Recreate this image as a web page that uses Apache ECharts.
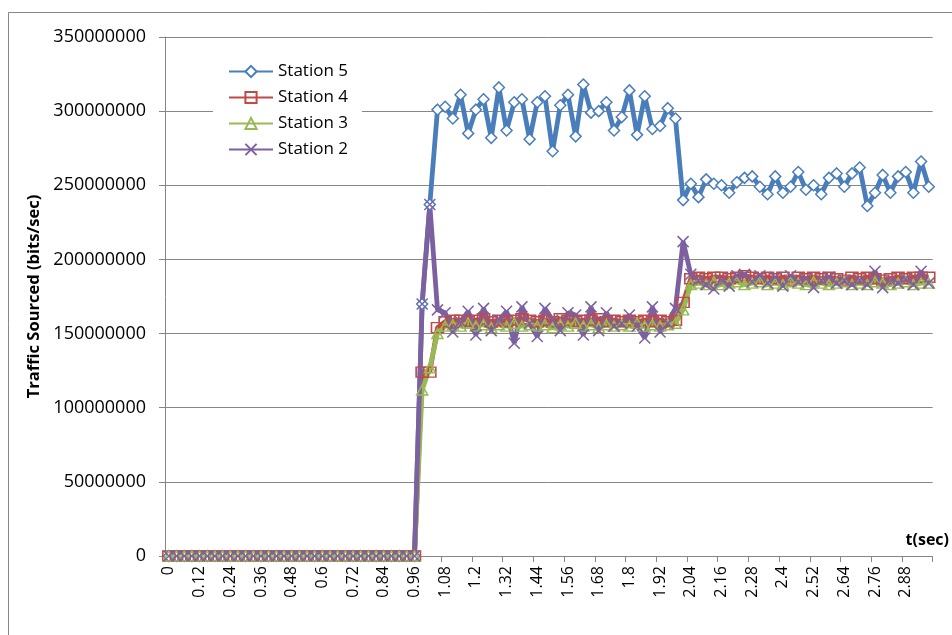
<!DOCTYPE html>
<html>
<head>
<meta charset="utf-8">
<script src="https://cdn.jsdelivr.net/npm/echarts@6/dist/echarts.min.js"></script>
<style>
html,body{margin:0;padding:0;background:#fff;}
#chart{width:952px;height:635px;}
</style>
</head>
<body>
<div id="chart"></div>
<script>
// time categories (sec)
var categories = ["0","0.03","0.06","0.09","0.12","0.15","0.18","0.21","0.24","0.27",
"0.3","0.33","0.36","0.39","0.42","0.45","0.48","0.51","0.54","0.57",
"0.6","0.63","0.66","0.69","0.72","0.75","0.78","0.81","0.84","0.87",
"0.9","0.93","0.96","0.99","1.02","1.05","1.08","1.11","1.14","1.17",
"1.2","1.23","1.26","1.29","1.32","1.35","1.38","1.41","1.44","1.47",
"1.5","1.53","1.56","1.59","1.62","1.65","1.68","1.71","1.74","1.77",
"1.8","1.83","1.86","1.89","1.92","1.95","1.98","2.01","2.04","2.07",
"2.1","2.13","2.16","2.19","2.22","2.25","2.28","2.31","2.34","2.37",
"2.4","2.43","2.46","2.49","2.52","2.55","2.58","2.61","2.64","2.67",
"2.7","2.73","2.76","2.79","2.82","2.85","2.88","2.91","2.94","2.97"];

// values in millions of bits/sec
var station5 = [0,0,0,0,0,0,0,0,0,0, 0,0,0,0,0,0,0,0,0,0, 0,0,0,0,0,0,0,0,0,0, 0,0,0,170,237,
301,303,295,311,285,301,308,282,316,287,306,308,281,306,310,273,304,311,283,318,299,300,306,287,296,314,284,310,288,290,302,295,
240,251,242,254,251,250,245,252,255,256,249,244,256,245,249,259,247,250,244,255,258,249,258,262,236,245,257,245,256,259,245,266,249];

var station4 = [0,0,0,0,0,0,0,0,0,0, 0,0,0,0,0,0,0,0,0,0, 0,0,0,0,0,0,0,0,0,0, 0,0,0,124,124,
154,158,159,159,158,159,160,158,159,158,159,160,159,158,159,158,160,159,158,159,159,160,158,159,158,159,158,159,158,159,158,159,
171,187,188,187,188,188,187,188,189,188,187,188,187,188,186,188,187,188,187,188,187,186,188,187,188,187,186,187,188,187,188,188,188];

var station3 = [0,0,0,0,0,0,0,0,0,0, 0,0,0,0,0,0,0,0,0,0, 0,0,0,0,0,0,0,0,0,0, 0,0,0,112,127,
150,155,156,155,157,155,156,154,156,155,157,155,156,155,156,154,156,155,157,155,156,154,156,155,156,155,157,155,156,155,156,157,
166,183,184,183,185,183,184,185,183,184,185,183,184,183,185,184,183,185,184,183,184,185,183,184,183,185,184,183,184,185,183,184,184];

var station2 = [0,0,0,0,0,0,0,0,0,0, 0,0,0,0,0,0,0,0,0,0, 0,0,0,0,0,0,0,0,0,0, 0,0,0,170,237,
166,164,151,158,165,149,167,152,159,165,143.5,168,157,148,167,159,152,164,162.5,149,168,152,164,155,157,162.5,155,147,168,151,157,167,
212,190,186,183,180,186,182,189,190,185,189,184,188,182,189,185,187,181,186,188,184,186,183,186,183,192,181,186,184,187,183,192,184];

var seriesNames = ["Station 5","Station 4","Station 3","Station 2"];
var seriesColors = ["#4A7EBB","#BE4B48","#98B954","#7D60A0"];

var yTicks = {min:0, max:350000000, interval:50000000};

function toBits(arr){ return arr.map(function(v){ return v*1e6; }); }

var crossPath = 'path://M0,0L10,10M10,0L0,10';

var chart = echarts.init(document.getElementById('chart'), null, {renderer:'canvas'});
var FONT = '"Open Sans", "Noto Sans", sans-serif';
var gray = '#868686';

function mkSeries(name, data, color, symbol, size, fill){
  return {
    name: name,
    type: 'line',
    data: toBits(data),
    color: color,
    symbol: symbol,
    symbolSize: size,
    showAllSymbol: true,
    lineStyle: {color: color, width: 4.8},
    itemStyle: {color: fill, borderColor: color, borderWidth: 1.5},
    emphasis: {disabled: true},
    animation: false
  };
}

var option = {
  animation: false,
  backgroundColor: '#fff',
  textStyle: {fontFamily: FONT},
  graphic: [{
    type: 'rect',
    shape: {x: 8.5, y: 12.5, width: 1000, height: 700},
    style: {fill: 'none', stroke: gray, lineWidth: 1},
    silent: true, z: -10
  }],
  grid: {left: 165, right: 16, top: 37, bottom: 79, containLabel: false},
  legend: {
    orient: 'vertical',
    left: 213, top: 57,
    backgroundColor: '#fff',
    padding: [6, 14, 6, 15],
    itemWidth: 44, itemHeight: 14, itemGap: 9,
    textStyle: {fontFamily: FONT, fontSize: 17, color: '#000', lineHeight: 16},
    data: seriesNames
  },
  xAxis: {
    type: 'category',
    data: categories,
    boundaryGap: true,
    name: 't(sec)',
    nameLocation: 'end',
    nameGap: -27,
    nameTextStyle: {fontFamily: FONT, fontSize: 16, fontWeight: 'bold', color: '#000', align: 'left', verticalAlign: 'bottom', padding: [0,0,8,0]},
    axisLine: {lineStyle: {color: gray, width: 1}},
    axisTick: {show: true, interval: 3, length: 6, lineStyle: {color: gray}},
    axisLabel: {interval: 3, rotate: 90, fontFamily: FONT, fontSize: 16, color: '#000', margin: 10},
    splitLine: {show: false}
  },
  yAxis: {
    type: 'value',
    min: yTicks.min, max: yTicks.max, interval: yTicks.interval,
    name: 'Traffic Sourced (bits/sec)',
    nameLocation: 'middle',
    nameGap: 110,
    nameTextStyle: {fontFamily: FONT, fontSize: 16.5, fontWeight: 'bold', color: '#000'},
    axisLine: {show: true, lineStyle: {color: gray, width: 1}},
    axisTick: {show: true, length: 6, lineStyle: {color: gray}},
    axisLabel: {fontFamily: FONT, fontSize: 18, color: '#000', margin: 19,
      formatter: function(v){ return String(v); }},
    splitLine: {show: true, lineStyle: {color: gray, width: 1}}
  },
  series: [
    mkSeries(seriesNames[0], station5, seriesColors[0], 'diamond', 11, '#fff'),
    mkSeries(seriesNames[1], station4, seriesColors[1], 'rect', [12,10], 'rgba(255,255,255,0)'),
    mkSeries(seriesNames[2], station3, seriesColors[2], 'triangle', [11,10], 'rgba(255,255,255,0)'),
    mkSeries(seriesNames[3], station2, seriesColors[3], crossPath, 11, seriesColors[3])
  ]
};
chart.setOption(option);
</script>
</body>
</html>
